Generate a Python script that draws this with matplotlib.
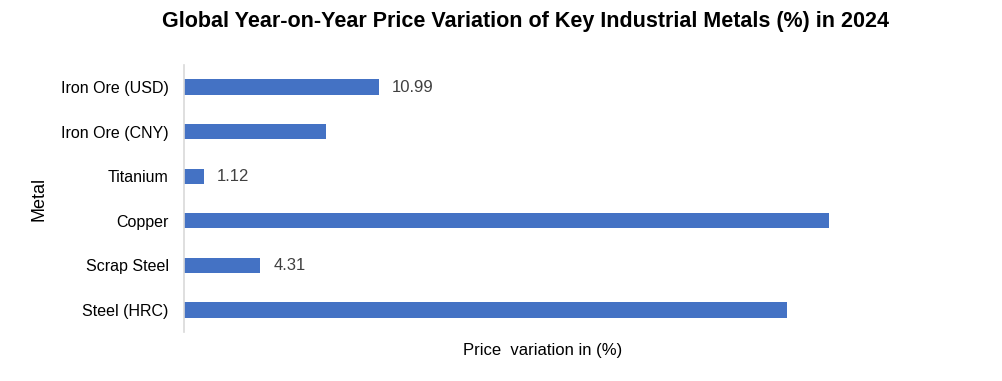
import matplotlib.pyplot as plt

metals = ["Iron Ore (USD)", "Iron Ore (CNY)", "Titanium", "Copper", "Scrap Steel", "Steel (HRC)"]
variation = [10.99, 8.0, 1.12, 36.4, 4.31, 34.0]
shown_labels = ["10.99", None, "1.12", None, "4.31", None]

BAR = "#4472C4"

fig = plt.figure(figsize=(10.03, 3.81), dpi=100)
ax = fig.add_axes([0.1835, 0.128, 0.716, 0.702])

ypos = list(range(len(metals)))[::-1]
ax.barh(ypos, variation, height=0.34, color=BAR)

for y, v, lab in zip(ypos, variation, shown_labels):
    if lab:
        ax.text(v + 0.75, y, lab, va="center", ha="left",
                fontsize=12, color="#404040", family="Liberation Sans")

ax.set_yticks(ypos)
ax.set_yticklabels(metals, fontsize=11.5, family="Liberation Sans")
ax.tick_params(axis="y", length=0, pad=11)
ax.set_xticks([])
ax.set_xlim(0, 40.5)
ax.set_ylim(-0.5, 5.5)

for s in ["top", "right", "bottom"]:
    ax.spines[s].set_visible(False)
ax.spines["left"].set_color("#D9D9D9")
ax.spines["left"].set_linewidth(1.2)

ax.set_xlabel("Price  variation in (%)", fontsize=12, family="Liberation Sans", labelpad=8)
ax.set_ylabel("Metal", fontsize=13, family="Liberation Sans", labelpad=10)

fig.suptitle("Global Year-on-Year Price Variation of Key Industrial Metals (%) in 2024",
             x=0.524, y=0.972, fontsize=15.5, fontweight="bold", family="Liberation Sans")

fig.savefig("out.png", dpi=100)
